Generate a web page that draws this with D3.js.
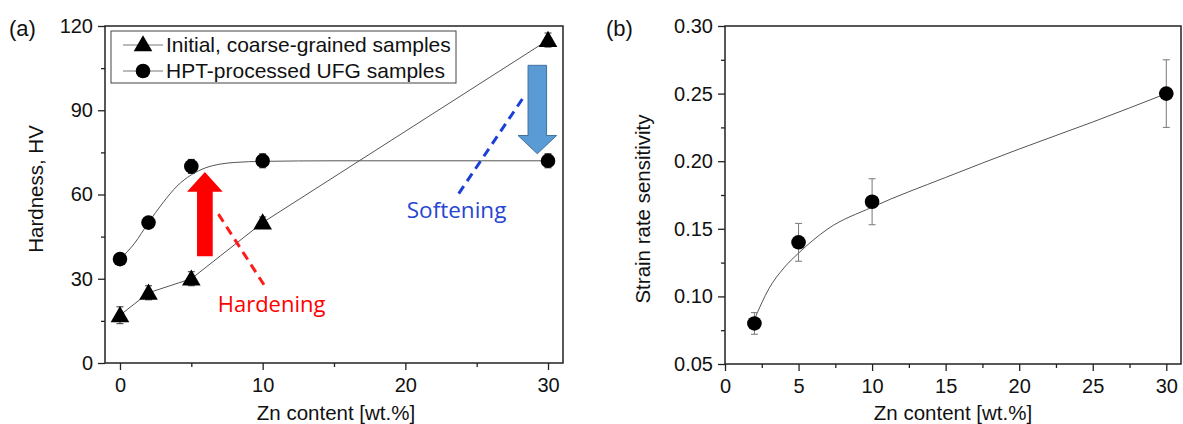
<!DOCTYPE html>
<html>
<head>
<meta charset="utf-8">
<script src="https://cdn.jsdelivr.net/npm/d3@7"></script>
<style>
  body { margin: 0; background: #fff; }
  svg { display: block; }
  text { font-family: "Liberation Sans", Arial, sans-serif; fill: #111; }
  .note { font-family: "Open Sans", "Noto Sans", sans-serif; }
</style>
</head>
<body>
<div id="chart"></div>
<script>
// panel (a) data: hardness vs Zn content
var zn = [0, 2, 5, 10, 30];
var hvInitial = [17, 25, 30, 50, 115];
var hvInitialErr = [3, 2.5, 2.5, 2, 2.5];
var hvUfg = [37, 50, 70, 72, 72];
var hvUfgErr = [1.5, 1.5, 2.5, 2.5, 2.5];
// fitted curve of the UFG samples
var ufgFitX = [0, 1, 2, 3, 4, 5, 6, 7, 8, 10, 15, 30];
var ufgFitY = [37, 42.5, 50, 57, 63, 67, 69.5, 70.8, 71.4, 71.8, 72, 72];
var legendNames = ["Initial, coarse-grained samples", "HPT-processed UFG samples"];

// panel (b) data: strain rate sensitivity
var znB = [2, 5, 10, 30];
var srs = [0.08, 0.14, 0.17, 0.25];
var srsErr = [0.008, 0.014, 0.017, 0.025];
var srsFitX = [2, 3, 4, 5, 7, 10, 15, 20, 25, 30];
var srsFitY = [0.083, 0.106, 0.121, 0.132, 0.150, 0.166, 0.188, 0.209, 0.229, 0.25];

var width = 1183, height = 424;
var svg = d3.select("#chart").append("svg")
    .attr("width", width)
    .attr("height", height);

var tri = d3.symbol().type(d3.symbolTriangle).size(150);

function frame(x, y, xTicks, xMinor, yTicks, yMinor, yFmt) {
    var x0 = x.range()[0], x1 = x.range()[1];
    var y0 = y.range()[0], y1 = y.range()[1];
    // minor ticks
    svg.append("g")
        .attr("transform", "translate(0," + y0 + ")")
        .call(d3.axisBottom(x).tickValues(xMinor).tickSize(4).tickFormat(""))
        .call(function (g) { g.select(".domain").remove(); });
    svg.append("g")
        .attr("transform", "translate(" + x0 + ",0)")
        .call(d3.axisLeft(y).tickValues(yMinor).tickSize(4).tickFormat(""))
        .call(function (g) { g.select(".domain").remove(); });
    // major ticks
    var xa = svg.append("g")
        .attr("transform", "translate(0," + y0 + ")")
        .call(d3.axisBottom(x).tickValues(xTicks).tickSize(7).tickPadding(8));
    xa.select(".domain").remove();
    xa.selectAll("text").style("font-size", "20px").attr("fill", "#111");
    var ya = svg.append("g")
        .attr("transform", "translate(" + x0 + ",0)")
        .call(d3.axisLeft(y).tickValues(yTicks).tickSize(7).tickPadding(5).tickFormat(yFmt));
    ya.select(".domain").remove();
    ya.selectAll("text").style("font-size", "20px").attr("fill", "#111");
    svg.selectAll(".tick line").attr("stroke", "#222").attr("stroke-width", 1.3);
    // box
    svg.append("rect")
        .attr("x", x0).attr("y", y1)
        .attr("width", x1 - x0).attr("height", y0 - y1)
        .attr("fill", "none")
        .attr("stroke", "#222")
        .attr("stroke-width", 1.5);
}

// ---------- panel (a) ----------
var xA = d3.scaleLinear().domain([-1.05, 31.05]).range([105, 563]);
var yA = d3.scaleLinear().domain([0, 120]).range([363, 26]);

frame(xA, yA, [0, 10, 20, 30], [5, 15, 25], [0, 30, 60, 90, 120], [15, 45, 75, 105], d3.format("d"));

var ptsInit = zn.map(function (d, i) { return { x: d, y: hvInitial[i], e: hvInitialErr[i] }; });
var ptsUfg = zn.map(function (d, i) { return { x: d, y: hvUfg[i], e: hvUfgErr[i] }; });

// fit lines
var lineA = d3.line().x(function (d) { return xA(d.x); }).y(function (d) { return yA(d.y); });
svg.append("path")
    .attr("d", lineA.curve(d3.curveLinear)(ptsInit))
    .attr("fill", "none").attr("stroke", "#555").attr("stroke-width", 1);
svg.append("path")
    .attr("d", lineA.curve(d3.curveMonotoneX)(ufgFitX.map(function (d, i) { return { x: d, y: ufgFitY[i] }; })))
    .attr("fill", "none").attr("stroke", "#555").attr("stroke-width", 1);

// annotations (a)
var redArrow = [[5.4, 38], [6.5, 38], [6.5, 61], [7.2, 61], [5.95, 68], [4.7, 61], [5.4, 61]];
svg.append("polygon")
    .attr("points", redArrow.map(function (p) { return xA(p[0]) + "," + yA(p[1]); }).join(" "))
    .attr("fill", "#ff0000");
svg.append("line")
    .attr("x1", xA(6.9)).attr("y1", yA(53))
    .attr("x2", xA(10.2)).attr("y2", yA(27))
    .attr("stroke", "#ff1a1a").attr("stroke-width", 3).attr("stroke-dasharray", "9,6");
svg.append("text").attr("class", "note")
    .attr("x", xA(6.85)).attr("y", yA(18))
    .style("font-size", "22px").style("fill", "#ff0000")
    .text("Hardening");

var blueArrow = [[28.6, 106], [29.9, 106], [29.9, 81], [30.6, 81], [29.25, 74.5], [27.9, 81], [28.6, 81]];
svg.append("polygon")
    .attr("points", blueArrow.map(function (p) { return xA(p[0]) + "," + yA(p[1]); }).join(" "))
    .attr("fill", "#5b9bd5").attr("stroke", "#41719c").attr("stroke-width", 1);
svg.append("line")
    .attr("x1", xA(28.2)).attr("y1", yA(94))
    .attr("x2", xA(23.7)).attr("y2", yA(60))
    .attr("stroke", "#1a3fd6").attr("stroke-width", 3).attr("stroke-dasharray", "9,6");
svg.append("text").attr("class", "note")
    .attr("x", xA(20.1)).attr("y", yA(51.5))
    .style("font-size", "22.5px").style("fill", "#2745d3")
    .text("Softening");

// error bars
function errBars(pts, x, y, color, cap) {
    var g = svg.append("g").attr("stroke", color).attr("stroke-width", 1);
    g.selectAll(".v").data(pts).enter().append("line")
        .attr("x1", function (d) { return x(d.x); }).attr("x2", function (d) { return x(d.x); })
        .attr("y1", function (d) { return y(d.y - d.e); }).attr("y2", function (d) { return y(d.y + d.e); });
    [-1, 1].forEach(function (s) {
        g.selectAll(".c" + s).data(pts).enter().append("line")
            .attr("x1", function (d) { return x(d.x) - cap; }).attr("x2", function (d) { return x(d.x) + cap; })
            .attr("y1", function (d) { return y(d.y + s * d.e); }).attr("y2", function (d) { return y(d.y + s * d.e); });
    });
}
errBars(ptsInit, xA, yA, "#333", 3.5);
errBars(ptsUfg, xA, yA, "#333", 3.5);

svg.append("g").selectAll("path").data(ptsInit).enter().append("path")
    .attr("d", tri)
    .attr("transform", function (d) { return "translate(" + xA(d.x) + "," + (yA(d.y) + 1.5) + ")"; })
    .attr("fill", "#000");
svg.append("g").selectAll("circle").data(ptsUfg).enter().append("circle")
    .attr("cx", function (d) { return xA(d.x); })
    .attr("cy", function (d) { return yA(d.y); })
    .attr("r", 7.3).attr("fill", "#000");

// legend (a)
var legend = svg.append("g");
legend.append("rect")
    .attr("x", 111).attr("y", 31).attr("width", 345).attr("height", 52)
    .attr("fill", "#fff").attr("stroke", "#444").attr("stroke-width", 1);
var leg = legend.selectAll(".leg").data(legendNames).enter().append("g")
    .attr("transform", function (d, i) { return "translate(123," + (45 + i * 26) + ")"; });
leg.append("line").attr("x1", 0).attr("x2", 40).attr("stroke", "#777").attr("stroke-width", 1);
leg.filter(function (d, i) { return i === 0; }).append("path")
    .attr("d", tri).attr("transform", "translate(20,1)").attr("fill", "#000");
leg.filter(function (d, i) { return i === 1; }).append("circle")
    .attr("cx", 20).attr("r", 7.3).attr("fill", "#000");
leg.append("text").attr("x", 43).attr("dy", "0.35em")
    .style("font-size", "21px").text(function (d) { return d; });

// axis titles (a)
svg.append("text").attr("x", 336).attr("y", 420).attr("text-anchor", "middle")
    .style("font-size", "20.5px").text("Zn content [wt.%]");
svg.append("text").attr("transform", "translate(43,189) rotate(-90)").attr("text-anchor", "middle")
    .style("font-size", "20.5px").text("Hardness, HV");
svg.append("text").attr("x", 9).attr("y", 36).style("font-size", "22px").text("(a)");

// ---------- panel (b) ----------
var xB = d3.scaleLinear().domain([0, 31]).range([725, 1181]);
var yB = d3.scaleLinear().domain([0.05, 0.30]).range([364, 26]);

frame(xB, yB, [0, 5, 10, 15, 20, 25, 30], [2.5, 7.5, 12.5, 17.5, 22.5, 27.5],
    [0.05, 0.10, 0.15, 0.20, 0.25, 0.30], [0.075, 0.125, 0.175, 0.225, 0.275], d3.format(".2f"));

var ptsB = znB.map(function (d, i) { return { x: d, y: srs[i], e: srsErr[i] }; });
var lineB = d3.line().curve(d3.curveMonotoneX)
    .x(function (d) { return xB(d.x); }).y(function (d) { return yB(d.y); });
svg.append("path")
    .attr("d", lineB(srsFitX.map(function (d, i) { return { x: d, y: srsFitY[i] }; })))
    .attr("fill", "none").attr("stroke", "#555").attr("stroke-width", 1);
errBars(ptsB, xB, yB, "#777", 3.5);
svg.append("g").selectAll("circle").data(ptsB).enter().append("circle")
    .attr("cx", function (d) { return xB(d.x); })
    .attr("cy", function (d) { return yB(d.y); })
    .attr("r", 7.3).attr("fill", "#000");

svg.append("text").attr("x", 953).attr("y", 420).attr("text-anchor", "middle")
    .style("font-size", "20.5px").text("Zn content [wt.%]");
svg.append("text").attr("transform", "translate(650,209) rotate(-90)").attr("text-anchor", "middle")
    .style("font-size", "20.5px").text("Strain rate sensitivity");
svg.append("text").attr("x", 606).attr("y", 36).style("font-size", "22px").text("(b)");
</script>
</body>
</html>
